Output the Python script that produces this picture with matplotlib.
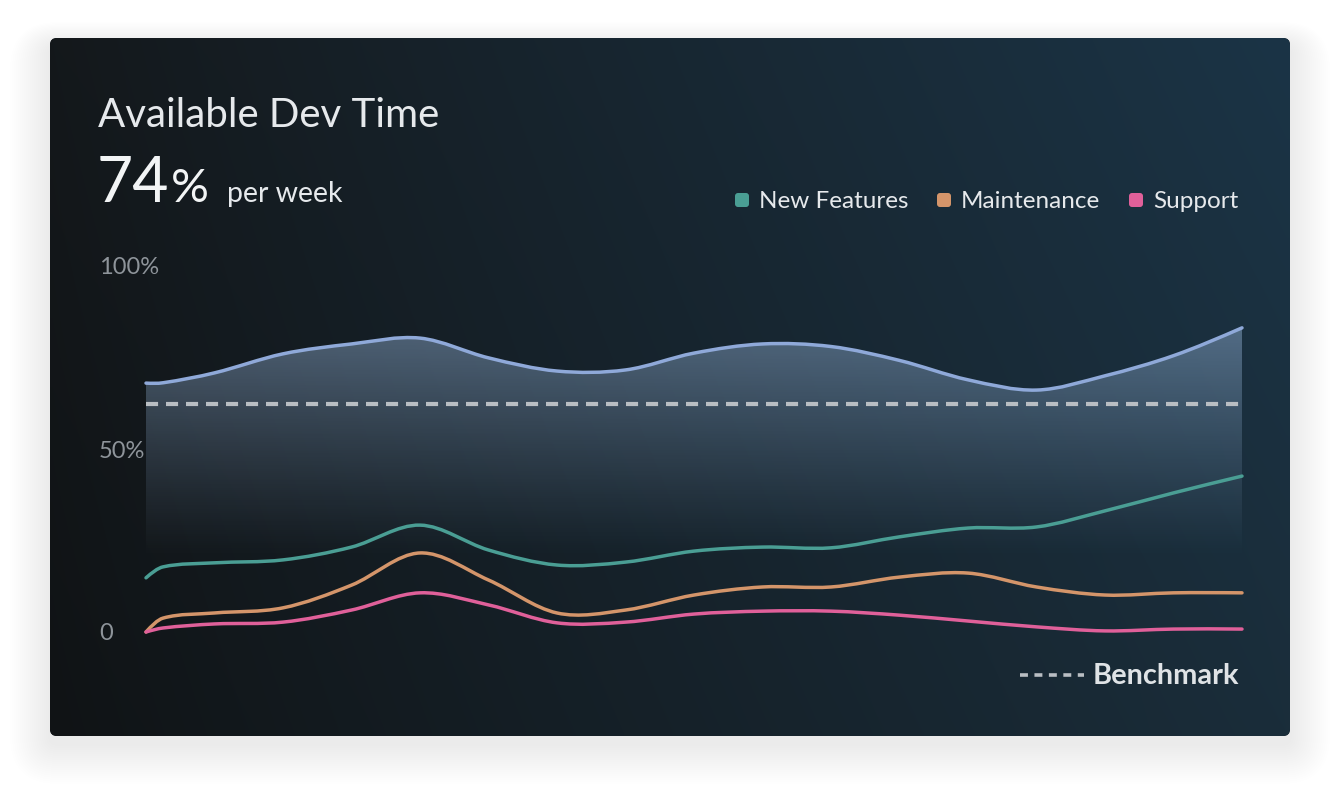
import numpy as np
import matplotlib
matplotlib.use("Agg")
import matplotlib.pyplot as plt
from matplotlib.path import Path
from matplotlib.patches import PathPatch, FancyBboxPatch
from matplotlib.lines import Line2D

# ---------------- data ----------------
x_pos = [0, 0.25, 1, 2, 3, 4, 5, 6, 7, 8, 9, 10, 11, 12, 13, 14, 15, 16]
available = [68.0, 68.1, 70.8, 76.0, 78.7, 80.3, 74.9, 71.3, 71.6, 76.2, 78.7, 78.0, 74.2, 68.9, 66.1, 70.0, 75.5, 83.1]
new_features = [14.8, 17.8, 18.9, 19.7, 23.2, 29.2, 22.4, 18.3, 19.1, 22.1, 23.2, 23.0, 26.0, 28.4, 28.7, 33.1, 38.0, 42.6]
maintenance = [0.0, 3.8, 5.2, 6.6, 12.8, 21.6, 14.2, 5.2, 6.0, 10.1, 12.3, 12.3, 15.0, 16.1, 12.3, 10.1, 10.7, 10.7]
support = [0.0, 1.1, 2.2, 2.7, 6.0, 10.7, 7.4, 2.5, 2.7, 4.9, 5.7, 5.7, 4.6, 3.0, 1.4, 0.3, 0.8, 0.8]
benchmark = 62.3
y_ticks = [0, 50, 100]
y_tick_labels = ["0", "50%", "100%"]
series_names = ["New Features", "Maintenance", "Support"]
series_colors = ["#4a9e94", "#d4956a", "#e0609a"]
headline_value = "74"

FONT = ["Lato", "DejaVu Sans"]
W, H = 1340, 798


def smooth_path(xs, ys):
    """Cubic Hermite curve with centred-difference tangents, as Bezier segments."""
    xs = np.asarray(xs, float)
    ys = np.asarray(ys, float)
    n = len(xs)
    h = np.diff(xs)
    d = np.diff(ys) / h
    m = np.zeros(n)
    for k in range(1, n - 1):
        m[k] = (ys[k + 1] - ys[k - 1]) / (xs[k + 1] - xs[k - 1])
    m[0] = (3 * d[0] - m[1]) / 2
    m[-1] = (3 * d[-1] - m[-2]) / 2
    verts = [(xs[0], ys[0])]
    codes = [Path.MOVETO]
    for i in range(n - 1):
        hh = h[i]
        verts += [(xs[i] + hh / 3, ys[i] + m[i] * hh / 3),
                  (xs[i + 1] - hh / 3, ys[i + 1] - m[i + 1] * hh / 3),
                  (xs[i + 1], ys[i + 1])]
        codes += [Path.CURVE4] * 3
    return verts, codes


fig = plt.figure(figsize=(W / 100, H / 100), dpi=100)
fig.patch.set_facecolor("white")

# ---------------- background card ----------------
bg = fig.add_axes([0, 0, 1, 1])
bg.set_xlim(0, W)
bg.set_ylim(H, 0)
bg.axis("off")

cx, cy, cw, ch = 50, 38, 1240, 698
for r in np.linspace(40, 2, 20):
    sh = FancyBboxPatch((cx - r, cy - r * 0.6 + 8), cw + 2 * r, ch + 2 * r * 0.8,
                        boxstyle="round,pad=0,rounding_size=%f" % (8 + r),
                        facecolor="black", edgecolor="none", alpha=0.0045)
    bg.add_patch(sh)

card = FancyBboxPatch((cx, cy), cw, ch, boxstyle="round,pad=0,rounding_size=7",
                      facecolor="#161d22", edgecolor="none")
bg.add_patch(card)


def hex2rgb(h):
    h = h.lstrip("#")
    return np.array([int(h[i:i + 2], 16) / 255 for i in (0, 2, 4)])


tl, tr, bl, br = hex2rgb("#14181b"), hex2rgb("#1b3446"), hex2rgb("#101315"), hex2rgb("#1a2d3a")
gx = np.linspace(0, 1, 240)[None, :, None]
gy = np.linspace(0, 1, 140)[:, None, None]
gx = gx ** 0.9
grad = (tl * (1 - gx) * (1 - gy) + tr * gx * (1 - gy) + bl * (1 - gx) * gy + br * gx * gy)
im = bg.imshow(grad, extent=(cx, cx + cw, cy + ch, cy), aspect="auto", interpolation="bilinear", zorder=2)
im.set_clip_path(card)

# ---------------- chart axes ----------------
x0_px, x1_px, y0_px, y100_px = 146, 1242, 632, 266
ax = fig.add_axes([x0_px / W, (H - y0_px) / H, (x1_px - x0_px) / W, (y0_px - y100_px) / H])
ax.set_xlim(x_pos[0], x_pos[-1])
ax.set_ylim(0, 100)
ax.patch.set_alpha(0)
for s in ax.spines.values():
    s.set_visible(False)
ax.set_xticks([])
ax.set_yticks(y_ticks, y_tick_labels)
ax.tick_params(axis="y", length=0, pad=34, labelcolor="#8e949a", labelsize=17)
for lbl in ax.get_yticklabels():
    lbl.set_ha("left")
    lbl.set_family(FONT)

# gradient area under available line
v, c = smooth_path(x_pos, available)
fill_verts = v + [(x_pos[-1], 0), (x_pos[0], 0), v[0]]
fill_codes = c + [Path.LINETO, Path.LINETO, Path.CLOSEPOLY]
fill_patch = PathPatch(Path(fill_verts, fill_codes), facecolor="none", edgecolor="none", transform=ax.transData)
ax.add_patch(fill_patch)
yy = np.linspace(100, 0, 300)
alpha = np.clip((yy - 20) / (85 - 20), 0, 1) ** 1.1 * 0.48
gimg = np.zeros((300, 2, 4))
gimg[..., 0] = 0.58
gimg[..., 1] = 0.70
gimg[..., 2] = 0.84
gimg[..., 3] = alpha[:, None]
gi = ax.imshow(gimg, extent=(x_pos[0], x_pos[-1], 0, 100), aspect="auto", interpolation="bilinear", zorder=1)
gi.set_clip_path(fill_patch)

# benchmark
ax.plot([x_pos[0], x_pos[-1]], [benchmark, benchmark], color="#b9bec3", lw=3,
        dashes=(2.9, 1.9), zorder=2, solid_capstyle="butt")

# lines
ax.add_patch(PathPatch(Path(v, c), facecolor="none", edgecolor="#8fa9d9", lw=2.5,
                       capstyle="round", clip_on=False, zorder=4))
for ys, col in zip([new_features, maintenance, support], series_colors):
    vv, cc = smooth_path(x_pos, ys)
    ax.add_patch(PathPatch(Path(vv, cc), facecolor="none", edgecolor=col, lw=2.5,
                           capstyle="round", clip_on=False, zorder=4))
ax.set_ylim(0, 100)

# ---------------- texts ----------------
bg.text(98, 127, "Available Dev Time", color="#e6e9ec", fontsize=29, family=FONT,
        fontweight="normal", ha="left", va="baseline", zorder=5)
bg.text(97, 202, headline_value, color="#f2f4f5", fontsize=45, family=FONT,
        fontweight="normal", ha="left", va="baseline", zorder=5)
bg.text(171, 202, "%", color="#f2f4f5", fontsize=34, family=FONT,
        fontweight="normal", ha="left", va="baseline", zorder=5)
bg.text(227, 202, "per week", color="#e6e9ec", fontsize=20.5, family=FONT,
        fontweight="normal", ha="left", va="baseline", zorder=5)

# legend
leg_sq_x = [735, 937, 1129]
for sx, name, col in zip(leg_sq_x, series_names, series_colors):
    bg.add_patch(FancyBboxPatch((sx, 193), 14, 14, boxstyle="round,pad=0,rounding_size=3",
                                facecolor=col, edgecolor="none", zorder=5))
    bg.text(sx + 24, 208, name, color="#e6e9ec", fontsize=17.5, family=FONT,
            ha="left", va="baseline", zorder=5)

# benchmark legend
bg.add_line(Line2D([1020, 1084], [675, 675], color="#b9bec3", lw=2.6, dashes=(2.2, 1.8), zorder=5))
bg.text(1093, 684, "Benchmark", color="#dfe3e6", fontsize=20.8, family=FONT,
        fontweight="bold", ha="left", va="baseline", zorder=5)

fig.savefig("out.png", dpi=100, facecolor="white")
